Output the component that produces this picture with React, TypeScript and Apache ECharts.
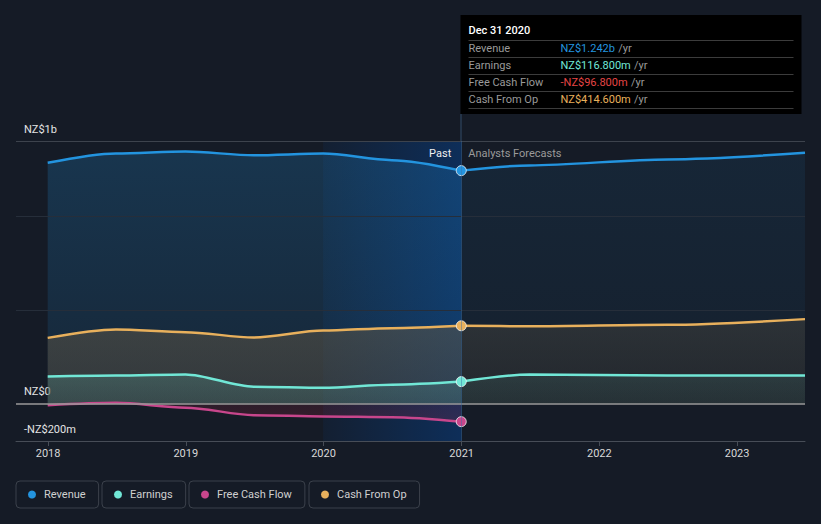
import React, { useEffect, useRef } from 'react';
import * as echarts from 'echarts';

// ---------- data ----------
const pastDates = ['2017-12-31', '2018-06-30', '2018-12-31', '2019-06-30', '2019-12-31', '2020-06-30', '2020-12-31'];
const forecastDates = ['2020-12-31', '2021-06-30', '2022-06-30', '2023-06-30'];

const revenuePast = [1284, 1334, 1344, 1324, 1333, 1298, 1242];
const revenueForecast = [1242, 1270, 1302, 1337];
const earningsPast = [144, 149, 155, 90, 84, 100, 116.8];
const earningsForecast = [116.8, 155, 149, 150];
const fcfPast = [-9, 4, -22, -62, -69, -73, -96.8];
const cfoPast = [350, 395, 380, 352, 389, 402, 414.6];
const cfoForecast = [414.6, 412, 420, 450];

const xMin = '2017-10-08';
const xMax = '2023-06-30';
const yMin = -200;
const yMax = 1400;
const yTickLabels: Record<string, string> = { '-200': '-NZ$200m', '0': 'NZ$0', '1400': 'NZ$1b' };
const faintGridValues = [500, 1000];
const pastStart = '2019-12-31';
const todayDate = '2020-12-31';

const tooltipTitle = 'Dec 31 2020';
const tooltipLabels = ['Revenue', 'Earnings', 'Free Cash Flow', 'Cash From Op'];
const tooltipValues = ['NZ$1.242b', 'NZ$116.800m', '-NZ$96.800m', 'NZ$414.600m'];
const tooltipColors = ['#2394df', '#71e7d6', '#e64545', '#e8b05c'];

const legendNames = ['Revenue', 'Earnings', 'Free Cash Flow', 'Cash From Op'];
const legendLefts = [16, 102, 189, 309];

const COLORS = {
  Revenue: '#2394df',
  Earnings: '#71e7d6',
  'Free Cash Flow': '#c8468c',
  'Cash From Op': '#e8b05c',
} as Record<string, string>;

const BG = '#151b26';
const FONT = 'Roboto';

const grad = (top: string, bottom: string) =>
  new echarts.graphic.LinearGradient(0, 0, 0, 1, [
    { offset: 0, color: top },
    { offset: 1, color: bottom },
  ]);

function lineSeries(
  name: string,
  dates: string[],
  vals: number[],
  area: any,
  markerLast: boolean,
  extra: any = {}
) {
  const color = COLORS[name];
  return {
    name,
    type: 'line',
    symbol: 'none',
    showSymbol: true,
    smooth: 0.3,
    smoothMonotone: 'x',
    silent: true,
    lineStyle: { color, width: 2.5 },
    itemStyle: { color },
    areaStyle: { color: area, origin: 'auto' },
    data: dates.map((d, i) =>
      markerLast && i === dates.length - 1
        ? {
            value: [d, vals[i]],
            symbol: 'circle',
            symbolSize: 10,
            itemStyle: { color, borderColor: 'rgba(255,255,255,0.75)', borderWidth: 1 },
          }
        : [d, vals[i]]
    ),
    ...extra,
  };
}

export default function App() {
  const ref = useRef<HTMLDivElement>(null);

  useEffect(() => {
    document.body.style.margin = '0';
    document.body.style.background = BG;
    const chart = echarts.init(ref.current!, null, { renderer: 'svg' });

    const gridMarkLine = {
      silent: true,
      symbol: 'none',
      label: { show: false },
      data: [
        ...faintGridValues.map((v) => ({ yAxis: v, lineStyle: { color: '#262e3a', width: 1, type: 'solid' } })),
        { yAxis: yMax, lineStyle: { color: '#3d434d', width: 1, type: 'solid' } },
        { yAxis: 0, lineStyle: { color: '#9a9a9a', width: 1.5, type: 'solid' } },
        { xAxis: todayDate, lineStyle: { color: 'rgba(60,110,165,0.45)', width: 1, type: 'solid' } },
      ],
    };

    const pastArea = {
      silent: true,
      data: [
        [
          {
            xAxis: pastStart,
            itemStyle: {
              color: new echarts.graphic.LinearGradient(0, 0, 1, 0, [
                { offset: 0, color: 'rgba(0,80,180,0.08)' },
                { offset: 1, color: 'rgba(0,80,180,0.36)' },
              ]),
            },
            label: {
              show: true,
              position: 'insideTopRight',
              distance: 0,
              formatter: 'Past',
              color: '#f0f0f0',
              fontSize: 11,
              fontFamily: FONT,
              lineHeight: 13,
              padding: [6, 10, 0, 0],
            },
          },
          { xAxis: todayDate },
        ],
        [
          {
            xAxis: todayDate,
            itemStyle: { color: 'rgba(0,0,0,0)' },
            label: {
              show: true,
              position: 'insideTopLeft',
              distance: 0,
              formatter: 'Analysts Forecasts',
              color: '#9a9a9a',
              fontSize: 11,
              fontFamily: FONT,
              lineHeight: 13,
              padding: [6, 0, 0, 7],
            },
          },
          { xAxis: xMax },
        ],
      ],
    };

    const series: any[] = [
      lineSeries('Revenue', pastDates, revenuePast, grad('rgba(35,148,223,0.31)', 'rgba(35,148,223,0.14)'), true, {
        markLine: gridMarkLine,
        markArea: pastArea,
      }),
      lineSeries('Revenue', forecastDates, revenueForecast, grad('rgba(35,148,223,0.13)', 'rgba(35,148,223,0.06)'), false),
      lineSeries('Cash From Op', pastDates, cfoPast, grad('rgba(97,88,70,0.72)', 'rgba(76,71,63,0.72)'), true),
      lineSeries('Cash From Op', forecastDates, cfoForecast, grad('rgba(67,66,61,0.72)', 'rgba(45,44,43,0.72)'), false),
      lineSeries('Earnings', pastDates, earningsPast, grad('rgba(113,231,214,0.24)', 'rgba(113,231,214,0.15)'), true),
      lineSeries('Earnings', forecastDates, earningsForecast, grad('rgba(113,231,214,0.13)', 'rgba(113,231,214,0.08)'), false),
      lineSeries('Free Cash Flow', pastDates, fcfPast, grad('rgba(170,35,65,0.22)', 'rgba(170,35,65,0.32)'), true),
    ];

    const legends = legendNames.map((n, i) => ({
      left: legendLefts[i],
      top: 481,
      orient: 'horizontal',
      data: [n],
      icon: 'circle',
      itemWidth: 8,
      itemHeight: 8,
      padding: [7, 13, 7, 12],
      borderColor: '#3b414b',
      borderWidth: 1,
      borderRadius: 4,
      textStyle: { color: '#d0d0d0', fontSize: 11, fontFamily: FONT, lineHeight: 13, padding: [0, 0, 0, 3] },
    }));

    chart.setOption({
      animation: false,
      backgroundColor: BG,
      textStyle: { fontFamily: FONT },
      legend: legends,
      grid: { left: 16, right: 16, top: 141, bottom: 83, containLabel: false },
      xAxis: {
        type: 'time',
        min: xMin,
        max: xMax,
        splitNumber: 6,
        axisLine: { onZero: false, lineStyle: { color: '#474d57', width: 1 } },
        axisTick: { show: true, length: 5, lineStyle: { color: '#474d57' } },
        splitLine: { show: false },
        axisLabel: {
          formatter: '{yyyy}',
          color: '#d8d8d8',
          fontSize: 11,
          fontFamily: FONT,
          margin: 7,
          hideOverlap: true,
        },
      },
      yAxis: {
        type: 'value',
        min: yMin,
        max: yMax,
        interval: 100,
        axisLine: { show: false },
        axisTick: { show: false },
        splitLine: { show: false },
        axisLabel: {
          inside: true,
          margin: 8,
          color: '#e4e4e4',
          fontSize: 11,
          fontFamily: FONT,
          verticalAlign: 'bottom',
          lineHeight: 14,
          padding: [0, 0, 5, 0],
          formatter: (v: number) => yTickLabels[String(v)] ?? '',
        },
      },
      series,
    });

    // Fixed info box anchored at the latest past point
    const px = chart.convertToPixel({ xAxisIndex: 0 }, todayDate) as number;
    const gridTop = chart.convertToPixel({ yAxisIndex: 0 }, yMax) as number;
    const bx = Math.round(px) - 0.5;
    const by = 15;
    const bw = 341;
    const bh = 99;
    const elements: any[] = [
      { type: 'rect', shape: { x: bx, y: by, width: bw, height: bh }, style: { fill: '#000000' }, silent: true },
      {
        type: 'line',
        shape: { x1: bx + 0.5, y1: by + bh, x2: bx + 0.5, y2: gridTop },
        style: { stroke: 'rgba(70,110,150,0.6)', lineWidth: 1 },
        silent: true,
      },
      {
        type: 'text',
        x: bx + 8,
        y: by + 15.5,
        style: { text: tooltipTitle, fill: '#ffffff', fontSize: 11, fontFamily: FONT, verticalAlign: 'middle', fontWeight: 500 },
        silent: true,
      },
    ];
    for (let i = 0; i < 5; i++) {
      const ly = by + 25.5 + i * 17;
      elements.push({
        type: 'line',
        shape: { x1: bx + 8, y1: ly, x2: bx + 333, y2: ly },
        style: { stroke: '#3c3c3c', lineWidth: 1 },
        silent: true,
      });
    }
    tooltipLabels.forEach((lab, i) => {
      const cy = by + 33.5 + i * 17;
      elements.push({
        type: 'text',
        x: bx + 8,
        y: cy,
        style: { text: lab, fill: '#9a9a9a', fontSize: 11, fontFamily: FONT, verticalAlign: 'middle' },
        silent: true,
      });
      elements.push({
        type: 'text',
        x: bx + 100,
        y: cy,
        style: {
          text: `{v|${tooltipValues[i]}} {u|/yr}`,
          verticalAlign: 'middle',
          rich: {
            v: { fill: tooltipColors[i], fontSize: 11, fontFamily: FONT },
            u: { fill: '#9a9a9a', fontSize: 11, fontFamily: FONT },
          },
        },
        silent: true,
      });
    });
    chart.setOption({ graphic: { elements } });

    return () => chart.dispose();
  }, []);

  return (
    <div
      ref={ref}
      style={{ position: 'fixed', left: 0, top: 0, width: '821px', height: '524px', background: BG }}
    />
  );
}
